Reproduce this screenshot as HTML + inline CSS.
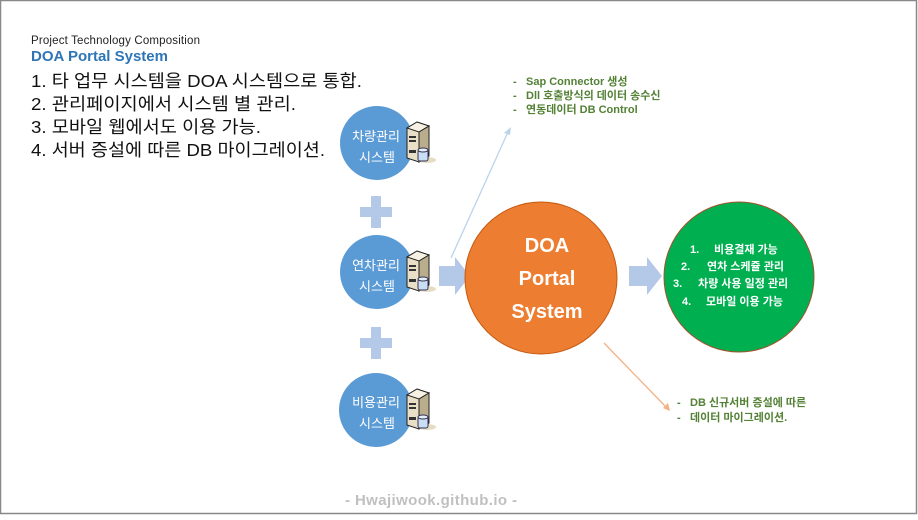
<!DOCTYPE html>
<html><head><meta charset="utf-8"><style>
body{margin:0;width:918px;height:515px;overflow:hidden;background:#fff;font-family:"Liberation Sans","Noto Sans CJK KR",sans-serif}
svg text{font-family:"Liberation Sans","Noto Sans CJK KR",sans-serif}
</style></head><body>
<svg width="918" height="515" xmlns="http://www.w3.org/2000/svg">
<defs>
<g id="srv">
<path d="M4 6 L14 0 L26 4 L26 34 L16 40 L4 36 Z" fill="#e8dfc6" stroke="#222" stroke-width="1"/>
<path d="M4 6 L14 0 L26 4 L16 10 Z" fill="#f6f1e2" stroke="#222" stroke-width="1"/>
<path d="M16 10 L26 4 L26 34 L16 40 Z" fill="#b9ad8e" stroke="#222" stroke-width="1"/>
<rect x="6" y="14" width="7" height="2" fill="#333"/><rect x="6" y="18" width="7" height="2" fill="#333"/>
<rect x="6" y="28" width="7" height="3" fill="#333"/>
<ellipse cx="24" cy="38" rx="9" ry="3" fill="#d8cfa8" opacity=".7"/>
<rect x="15" y="28" width="10" height="11" rx="2" fill="#c9def4" stroke="#335" stroke-width="1"/>
<ellipse cx="20" cy="28" rx="5" ry="2" fill="#e6f0fb" stroke="#335" stroke-width="1"/>
</g>
<g id="plus"><rect x="11" y="0" width="10" height="32" fill="#b4c9e8"/><rect x="0" y="11" width="32" height="10" fill="#b4c9e8"/></g>
</defs>
<rect x="0.5" y="0.5" width="916" height="513" fill="none" stroke="#888" stroke-width="1.5"/>
<text x="31" y="44" font-size="11.5" fill="#222" textLength="169">Project Technology Composition</text>
<text x="31" y="61" font-size="15" font-weight="bold" fill="#2e75b6">DOA Portal System</text>
<g font-size="17.5" fill="#111">
<text x="31" y="87" textLength="331" lengthAdjust="spacingAndGlyphs">1. 타 업무 시스템을 DOA 시스템으로 통합.</text>
<text x="31" y="110" textLength="265" lengthAdjust="spacingAndGlyphs">2. 관리페이지에서 시스템 별 관리.</text>
<text x="31" y="133" textLength="230" lengthAdjust="spacingAndGlyphs">3. 모바일 웹에서도 이용 가능.</text>
<text x="31" y="156" textLength="294" lengthAdjust="spacingAndGlyphs">4. 서버 증설에 따른 DB 마이그레이션.</text>
</g>
<g fill="#5b9bd5"><circle cx="377" cy="143" r="37"/><circle cx="377" cy="272" r="37"/><circle cx="376" cy="410" r="37"/></g>
<g font-size="13" fill="#fff" text-anchor="middle">
<text x="376" y="141">차량관리</text><text x="377" y="162">시스템</text>
<text x="376" y="270">연차관리</text><text x="377" y="291">시스템</text>
<text x="376" y="407">비용관리</text><text x="377" y="428">시스템</text>
</g>
<use href="#srv" x="403" y="122"/><use href="#srv" x="403" y="251"/><use href="#srv" x="403" y="389"/>
<use href="#plus" x="360" y="196"/><use href="#plus" x="360" y="327"/>
<path d="M439 266 H455 V257 L470 276 L455 295 V286 H439 Z" fill="#b4c9e8"/>
<path d="M629 266 H647 V257 L662 276 L647 295 V286 H629 Z" fill="#b4c9e8"/>
<line x1="451" y1="258" x2="508" y2="132" stroke="#bcd3ea" stroke-width="1.3"/>
<path d="M511 127 L504 133 L510 135 Z" fill="#bcd3ea"/>
<line x1="604" y1="343" x2="666" y2="407" stroke="#f4b183" stroke-width="1.3"/>
<path d="M670 411 L663 408 L668 403 Z" fill="#f4b183"/>
<circle cx="541" cy="278" r="76" fill="#ed7d31" stroke="#c55a11" stroke-width="1"/>
<g font-size="20" font-weight="bold" fill="#fff" text-anchor="middle">
<text x="547" y="252">DOA</text><text x="547" y="285">Portal</text><text x="547" y="318">System</text>
</g>
<circle cx="739" cy="277" r="75" fill="#00b050" stroke="#a0522d" stroke-width="1"/>
<g font-size="11" font-weight="bold" fill="#fff">
<text x="690" y="253">1.</text><text x="714" y="253">비용결재 가능</text>
<text x="681" y="270">2.</text><text x="707" y="270">연차 스케쥴 관리</text>
<text x="673" y="287">3.</text><text x="698" y="287">차량 사용 일정 관리</text>
<text x="682" y="305">4.</text><text x="706" y="305">모바일 이용 가능</text>
</g>
<g font-size="11" font-weight="bold" fill="#538135">
<text x="513" y="85">-</text><text x="526" y="85">Sap Connector 생성</text>
<text x="513" y="99">-</text><text x="526" y="99">Dll 호출방식의 데이터 송수신</text>
<text x="513" y="113">-</text><text x="526" y="113">연동데이터 DB Control</text>
<text x="677" y="406">-</text><text x="690" y="406">DB 신규서버 증설에 따른</text>
<text x="677" y="421">-</text><text x="690" y="421">데이터 마이그레이션.</text>
</g>
<text x="431" y="505" font-size="15" font-weight="bold" fill="#c0c0c0" text-anchor="middle" textLength="172">- Hwajiwook.github.io -</text>
</svg>
</body></html>
